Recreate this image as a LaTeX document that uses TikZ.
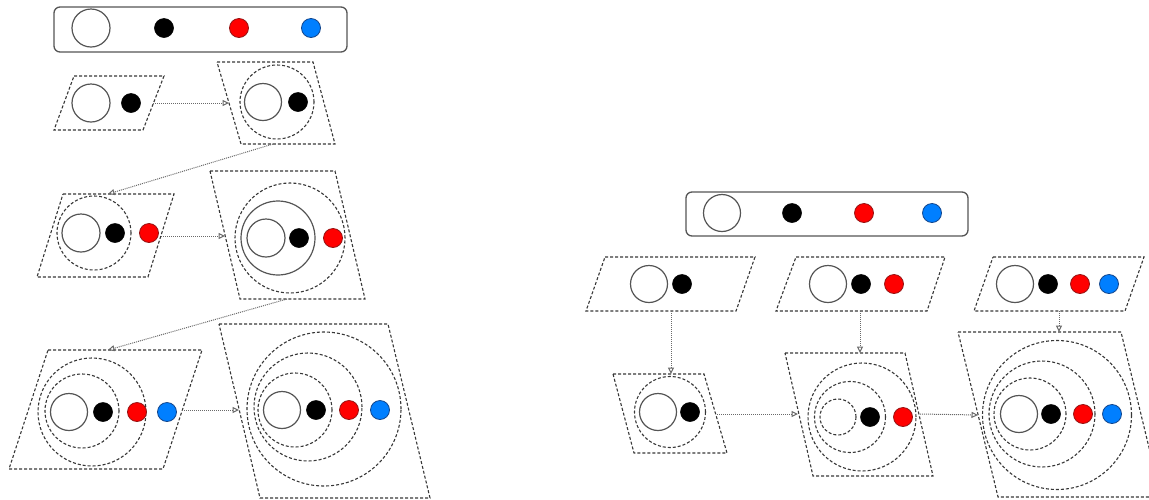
\documentclass[tikz,border=0pt]{standalone}
\usetikzlibrary{arrows.meta}
\definecolor{shpgray}{RGB}{55,55,55}
\definecolor{circgray}{RGB}{85,85,85}
\definecolor{conngray}{RGB}{105,105,105}
\definecolor{redfill}{RGB}{255,0,0}
\definecolor{redline}{RGB}{150,20,20}
\definecolor{bluefill}{RGB}{0,127,255}
\definecolor{blueline}{RGB}{20,70,140}
\begin{document}
\begin{tikzpicture}[x=1pt,y=-1pt,
  shp/.style={draw=shpgray, line width=1.1pt, dash pattern=on 3pt off 2pt},
  ring/.style={circle, draw=shpgray, line width=1.1pt, dash pattern=on 3pt off 2pt, inner sep=0pt},
  solidring/.style={circle, draw=circgray, line width=1.2pt, inner sep=0pt},
  big/.style={circle, draw=circgray, line width=1.2pt, fill=white, inner sep=0pt, minimum size=37pt},
  bdot/.style={circle, fill=black, draw=black, line width=0.6pt, inner sep=0pt, minimum size=19pt},
  rdot/.style={circle, fill=redfill, draw=redline, line width=0.8pt, inner sep=0pt, minimum size=19pt},
  ldot/.style={circle, fill=bluefill, draw=blueline, line width=0.8pt, inner sep=0pt, minimum size=19pt},
  conn/.style={draw=conngray, line width=1pt, dash pattern=on 1pt off 1pt, -{Triangle[open,length=6.5pt,width=6pt,line width=1pt]}},
  legend/.style={draw=circgray, line width=1.3pt, rounded corners=6pt}
]
\clip (0,0) rectangle (1149,499);

% ---------------- left panel ----------------
\draw[legend] (54,7) rectangle (347,52);
\node[big, minimum size=38pt] (L1a) at (91,28) {};
\node[bdot] (L1b) at (164,28) {};
\node[rdot] (L1c) at (239,28) {};
\node[ldot] (L1d) at (311,28) {};

% S1
\draw[shp] (74,76)--(164,76)--(143,130)--(54,130)--cycle;
\node[big, minimum size=38pt] (s1a) at (91,103) {};
\node[bdot] (s1b) at (131,103) {};
\coordinate (s1o) at (153,103);

% S2
\draw[shp] (217,62)--(313,62)--(335,144)--(241,144)--cycle;
\node[ring, minimum size=74pt] (s2r) at (277,102) {};
\node[big] (s2a) at (263,102) {};
\node[bdot] (s2b) at (298,102) {};
\coordinate (s2i) at (229,103);
\coordinate (s2o) at (273,144);

% S3
\draw[shp] (63,194)--(174,194)--(148,277)--(37,277)--cycle;
\node[ring, minimum size=74pt] (s3r) at (94,233) {};
\node[big, minimum size=38pt] (s3a) at (81,233) {};
\node[bdot] (s3b) at (115,233) {};
\node[rdot] (s3c) at (149,233) {};
\coordinate (s3i) at (108,194);
\coordinate (s3o) at (161,236);

% S4
\draw[shp] (210,171)--(335,171)--(365,299)--(240,299)--cycle;
\node[ring, minimum size=110pt] (s4r) at (290,238) {};
\node[solidring, minimum size=74pt] (s4s) at (278,238) {};
\node[big, minimum size=38pt] (s4a) at (266,238) {};
\node[bdot] (s4b) at (299,238) {};
\node[rdot] (s4c) at (333,238) {};
\coordinate (s4i) at (225,236);
\coordinate (s4o) at (287,299);

% S5
\draw[shp] (48,350)--(202,350)--(163,469)--(9,469)--cycle;
\node[ring, minimum size=108pt] (s5r1) at (92,412) {};
\node[ring, minimum size=74pt] (s5r2) at (82,411) {};
\node[big] (s5a) at (69,412) {};
\node[bdot] (s5b) at (103,412) {};
\node[rdot] (s5c) at (137,412) {};
\node[ldot] (s5d) at (167,412) {};
\coordinate (s5i) at (108,350);
\coordinate (s5o) at (182,410);

% S6
\draw[shp] (219,324)--(388,324)--(430,498)--(260,498)--cycle;
\node[ring, minimum size=154pt] (s6r1) at (324,409) {};
\node[ring, minimum size=108pt] (s6r2) at (308,407) {};
\node[ring, minimum size=74pt] (s6r3) at (295,410) {};
\node[big] (s6a) at (282,410) {};
\node[bdot] (s6b) at (316,410) {};
\node[rdot] (s6c) at (349,410) {};
\node[ldot] (s6d) at (380,410) {};
\coordinate (s6i) at (239,410);

\draw[conn] (s1o) -- (s2i);
\draw[conn] (s2o) -- (s3i);
\draw[conn] (s3o) -- (s4i);
\draw[conn] (s4o) -- (s5i);
\draw[conn] (s5o) -- (s6i);

% ---------------- right panel ----------------
\draw[legend] (686,192) rectangle (968,236);
\node[big] (L2a) at (722,213) {};
\node[bdot] (L2b) at (792,213) {};
\node[rdot] (L2c) at (864,213) {};
\node[ldot] (L2d) at (932,213) {};

% P1
\draw[shp] (605,257)--(755,257)--(736,311)--(586,311)--cycle;
\node[big] (p1a) at (649,284) {};
\node[bdot] (p1b) at (682,284) {};
\coordinate (p1o) at (671,311);

% P2
\draw[shp] (796,257)--(945,257)--(927,311)--(776,311)--cycle;
\node[big] (p2a) at (828,284) {};
\node[bdot] (p2b) at (861,284) {};
\node[rdot] (p2c) at (894,284) {};
\coordinate (p2o) at (860,311);

% P3
\draw[shp] (993,257)--(1144,257)--(1125,311)--(974,311)--cycle;
\node[big] (p3a) at (1015,284) {};
\node[bdot] (p3b) at (1048,284) {};
\node[rdot] (p3c) at (1080,284) {};
\node[ldot] (p3d) at (1109,284) {};
\coordinate (p3o) at (1059,311);

% Q1
\draw[shp] (613,374)--(704,374)--(727,453)--(634,453)--cycle;
\node[ring, minimum size=71pt] (q1r) at (670,412) {};
\node[big] (q1a) at (658,412) {};
\node[bdot] (q1b) at (690,412) {};
\coordinate (q1t) at (671,374);
\coordinate (q1o) at (717,414);

% Q2
\draw[shp] (785,353)--(905,353)--(933,476)--(813,476)--cycle;
\node[ring, minimum size=108pt] (q2r1) at (862,417) {};
\node[ring, minimum size=71pt] (q2r2) at (850,417) {};
\node[ring, minimum size=36pt] (q2r3) at (838,417) {};
\node[bdot] (q2b) at (870,417) {};
\node[rdot] (q2c) at (903,417) {};
\coordinate (q2t) at (860,353);
\coordinate (q2i) at (798,414);
\coordinate (q2o) at (920,414);

% Q3
\draw[shp] (958,332)--(1121,332)--(1161,497)--(998,497)--cycle;
\node[ring, minimum size=149pt] (q3r1) at (1057,415) {};
\node[ring, minimum size=106pt] (q3r2) at (1042,414) {};
\node[ring, minimum size=72pt] (q3r3) at (1030,414) {};
\node[big] (q3a) at (1019,414) {};
\node[bdot] (q3b) at (1051,414) {};
\node[rdot] (q3c) at (1083,414) {};
\node[ldot] (q3d) at (1112,414) {};
\coordinate (q3t) at (1059,332);
\coordinate (q3i) at (978,415);

\draw[conn] (p1o) -- (q1t);
\draw[conn] (p2o) -- (q2t);
\draw[conn] (p3o) -- (q3t);
\draw[conn] (q1o) -- (q2i);
\draw[conn] (q2o) -- (q3i);
\end{tikzpicture}
\end{document}
